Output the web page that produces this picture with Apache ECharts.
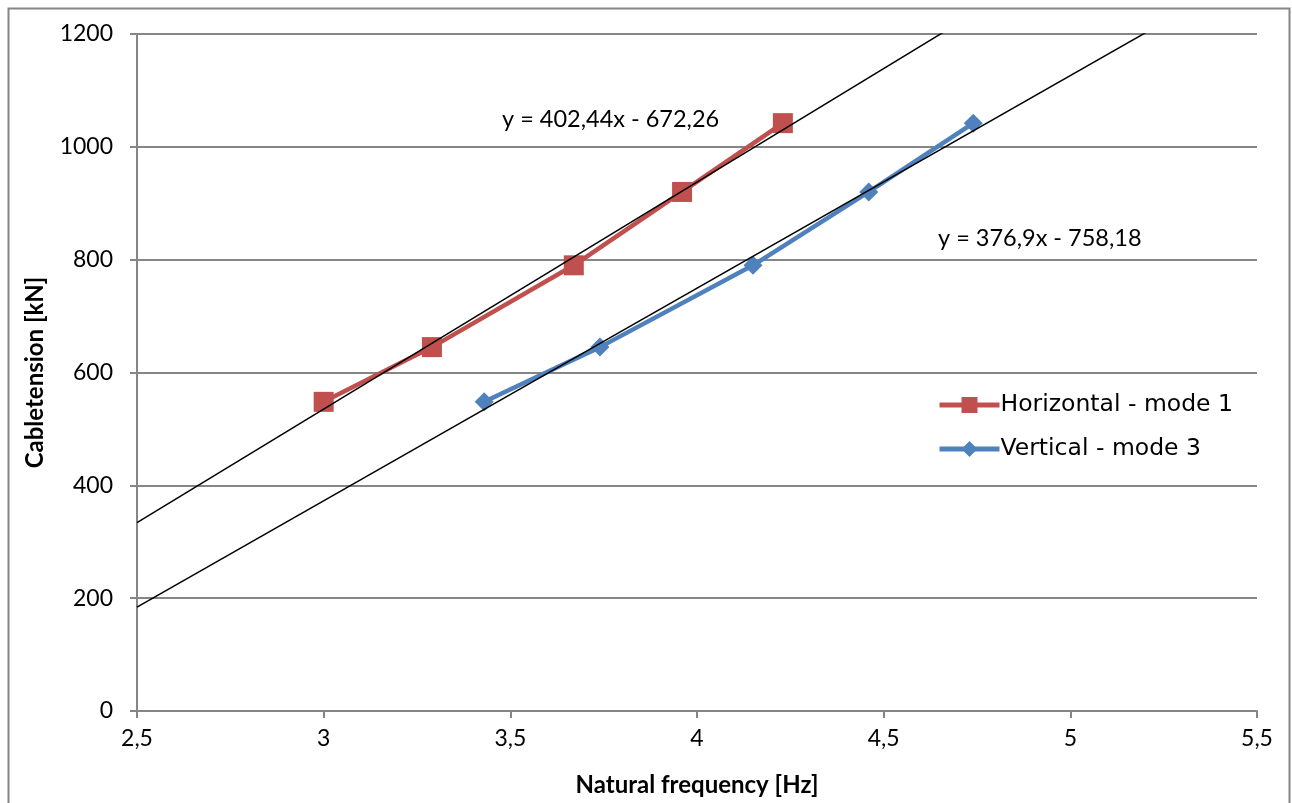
<!DOCTYPE html>
<html><head><meta charset="utf-8">
<script src="https://cdn.jsdelivr.net/npm/echarts@6/dist/echarts.min.js"></script>
<style>html,body{margin:0;padding:0;background:#fff}#c{width:1292px;height:803px}</style>
</head><body><div id="c"></div>
<script>
const horizFreq = [3.00, 3.29, 3.67, 3.96, 4.23];
const horizTension = [548, 645, 790, 920, 1042];
const vertFreq = [3.43, 3.74, 4.15, 4.46, 4.74];
const vertTension = [548, 645, 790, 920, 1042];
const horizTrend = {slope: 402.44, intercept: -672.26, label: 'y = 402,44x - 672,26'};
const vertTrend = {slope: 376.9, intercept: -758.18, label: 'y = 376,9x - 758,18'};
const xRange = [2.5, 5.5];
const seriesNames = ['Horizontal - mode 1', 'Vertical - mode 3'];

const zip = (a, b) => a.map((v, i) => [v, b[i]]);
const trendPts = t => xRange.map(x => [x, t.slope * x + t.intercept]);
const comma = v => String(v).replace('.', ',');
const tickFont = 'Lato, "Open Sans", sans-serif';

const chart = echarts.init(document.getElementById('c'));
chart.setOption({
  animation: false,
  backgroundColor: '#fff',
  grid: {left: 137, right: 35, top: 34, bottom: 92},
  xAxis: {
    type: 'value', min: 2.5, max: 5.5, interval: 0.5,
    name: 'Natural frequency [Hz]', nameLocation: 'middle', nameGap: 62,
    nameTextStyle: {fontFamily: tickFont, fontWeight: 'bold', fontSize: 24, color: '#000'},
    axisLine: {lineStyle: {color: '#868686', width: 2}},
    axisTick: {show: true, length: 7, lineStyle: {color: '#868686', width: 2}},
    axisLabel: {formatter: comma, fontFamily: tickFont, fontSize: 23, color: '#000', margin: 16},
    splitLine: {show: false}
  },
  yAxis: {
    type: 'value', min: 0, max: 1200, interval: 200,
    name: 'Cabletension [kN]', nameLocation: 'middle', nameGap: 90,
    nameTextStyle: {fontFamily: tickFont, fontWeight: 'bold', fontSize: 24, color: '#000'},
    axisLine: {show: true, lineStyle: {color: '#868686', width: 2}},
    axisTick: {show: true, length: 7, lineStyle: {color: '#868686', width: 2}},
    axisLabel: {formatter: v => String(v), fontFamily: tickFont, fontSize: 23, color: '#000', margin: 24},
    splitLine: {show: true, lineStyle: {color: '#868686', width: 2}}
  },
  legend: {
    left: 932, top: 388, orient: 'vertical', itemGap: 20,
    itemWidth: 60, itemHeight: 20,
    lineStyle: {width: 5},
    textStyle: {fontFamily: '"DejaVu Sans", Verdana, sans-serif', fontSize: 23.5, color: '#000', padding: [0, 0, 0, -4]},
    data: seriesNames
  },
  series: [
    {
      name: 'trendH', type: 'line', data: trendPts(horizTrend), symbol: 'none', clip: true,
      lineStyle: {color: '#000', width: 1.5}, z: 5, silent: true
    },
    {
      name: 'trendV', type: 'line', data: trendPts(vertTrend), symbol: 'none', clip: true,
      lineStyle: {color: '#000', width: 1.5}, z: 5, silent: true
    },
    {
      name: seriesNames[0], type: 'line', data: zip(horizFreq, horizTension),
      symbol: 'rect', symbolSize: 20, itemStyle: {color: '#C0504D'},
      lineStyle: {color: '#C0504D', width: 4.5}, z: 3
    },
    {
      name: seriesNames[1], type: 'line', data: zip(vertFreq, vertTension),
      symbol: 'diamond', symbolSize: 19, itemStyle: {color: '#4F81BD'},
      lineStyle: {color: '#4F81BD', width: 4.5}, z: 3
    }
  ],
  graphic: [
    {type: 'rect', left: 6, top: 6, shape: {width: 1281, height: 800},
     style: {fill: 'none', stroke: '#868686', lineWidth: 2}, silent: true},
    {type: 'text', left: 502, top: 107,
     style: {text: horizTrend.label, font: '23.5px Lato, "Open Sans", sans-serif', fill: '#000'}},
    {type: 'text', left: 938, top: 226,
     style: {text: vertTrend.label, font: '23.5px Lato, "Open Sans", sans-serif', fill: '#000'}}
  ]
});
</script></body></html>
